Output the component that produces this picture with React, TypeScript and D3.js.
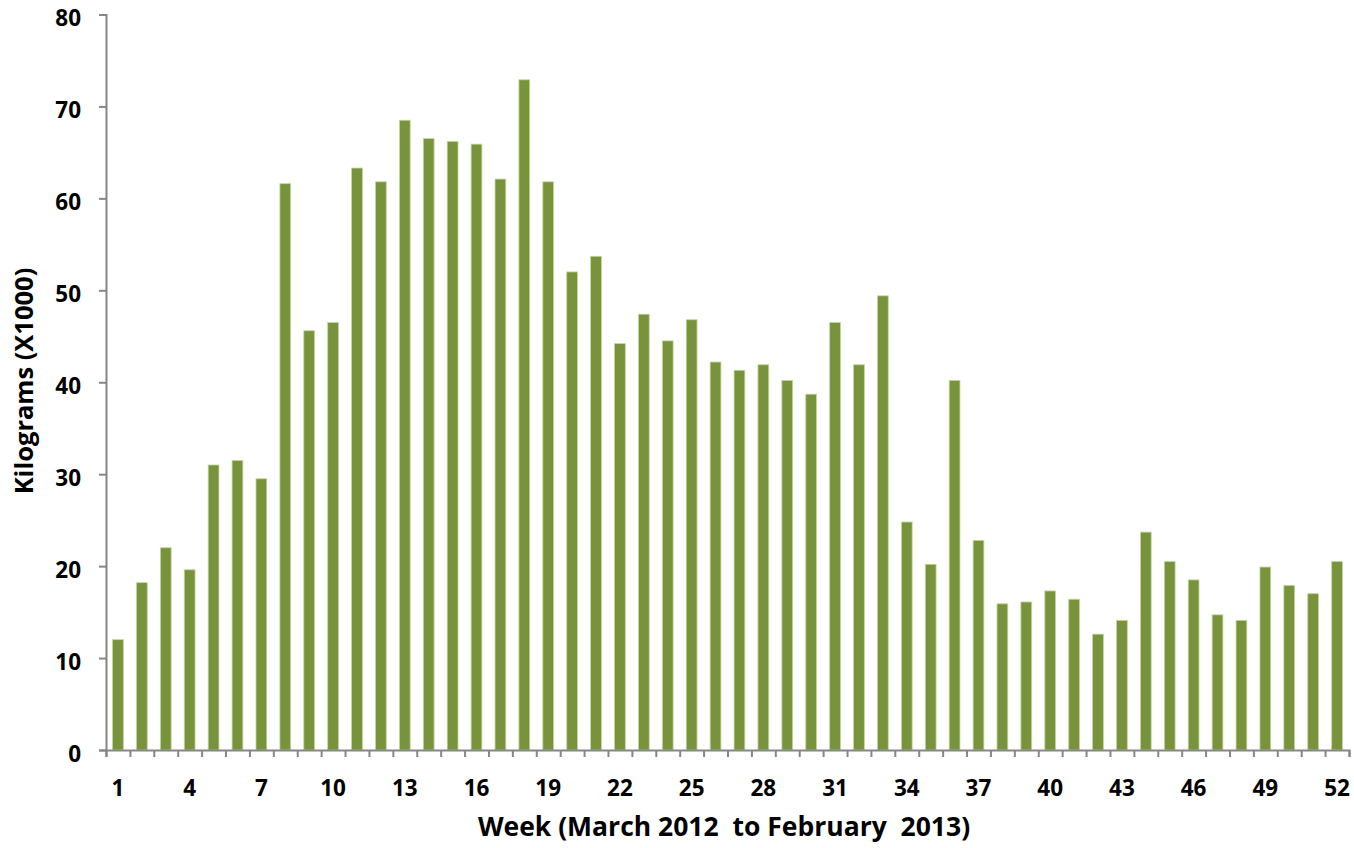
import React, { useEffect, useRef } from 'react';
import * as d3 from 'd3';

const weeks: number[] = d3.range(1, 53);
const kilograms: number[] = [
  12.0, 18.2, 22.0, 19.6, 31.0, 31.5, 29.5, 61.6, 45.6, 46.5,
  63.3, 61.8, 68.5, 66.5, 66.2, 65.9, 62.1, 72.9, 61.8, 52.0,
  53.7, 44.2, 47.4, 44.5, 46.8, 42.2, 41.3, 41.9, 40.2, 38.7,
  46.5, 41.9, 49.4, 24.8, 20.2, 40.2, 22.8, 15.9, 16.1, 17.3,
  16.4, 12.6, 14.1, 23.7, 20.5, 18.5, 14.7, 14.1, 19.9, 17.9,
  17.0, 20.5,
];
const yTicks: number[] = [0, 10, 20, 30, 40, 50, 60, 70, 80];
const xLabels: number[] = [1, 4, 7, 10, 13, 16, 19, 22, 25, 28, 31, 34, 37, 40, 43, 46, 49, 52];
const xTitle = 'Week (March 2012  to February  2013)';
const yTitle = 'Kilograms (X1000)';

const App: React.FC = () => {
  const svgRef = useRef<SVGSVGElement | null>(null);

  useEffect(() => {
    if (!svgRef.current) return;
    const svg = d3.select(svgRef.current);
    svg.selectAll('*').remove();

    const width = 1354;
    const height = 848;
    const left = 106;
    const right = 1349;
    const top = 14.5;
    const bottom = 750;
    const font = '"Open Sans", Lato, sans-serif';
    const axisColor = '#868686';

    svg.attr('width', width).attr('height', height);

    const x = d3
      .scaleBand<number>()
      .domain(weeks)
      .range([left, right])
      .paddingInner(0.55)
      .paddingOuter(0.275);
    const xEdge = d3.scaleLinear().domain([0, 52]).range([left, right]);
    const y = d3.scaleLinear().domain([0, 80]).range([bottom, top]);

    // bars
    svg
      .append('g')
      .selectAll('rect')
      .data(kilograms)
      .join('rect')
      .attr('x', (_, i) => x(weeks[i]) as number)
      .attr('y', (d) => y(d))
      .attr('width', x.bandwidth())
      .attr('height', (d) => bottom - y(d))
      .attr('fill', '#77933C')
      .attr('stroke', '#C3D69B')
      .attr('stroke-width', 0.8);

    // y axis
    const yAxis = svg
      .append('g')
      .attr('transform', `translate(${left},0)`)
      .call(d3.axisLeft(y).tickValues(yTicks).tickSize(7).tickSizeOuter(7).tickPadding(18));
    yAxis.select('.domain').attr('stroke', axisColor).attr('stroke-width', 2);
    yAxis.selectAll('.tick line').attr('stroke', axisColor).attr('stroke-width', 2);
    yAxis
      .selectAll('.tick text')
      .attr('fill', '#000')
      .attr('dy', '0.5em')
      .attr('font-family', font)
      .attr('font-weight', 'bold')
      .attr('font-size', 22.5);

    // x axis (tick marks between weeks)
    const xAxis = svg
      .append('g')
      .attr('transform', `translate(0,${bottom})`)
      .call(
        d3
          .axisBottom(xEdge)
          .tickValues(d3.range(0, 53))
          .tickSize(7)
          .tickSizeOuter(7)
          .tickFormat(() => '')
      );
    xAxis.select('.domain').attr('stroke', axisColor).attr('stroke-width', 2);
    xAxis.selectAll('.tick line').attr('stroke', axisColor).attr('stroke-width', 2);

    // x labels
    svg
      .append('g')
      .selectAll('text')
      .data(xLabels)
      .join('text')
      .attr('x', (d) => (x(d) as number) + x.bandwidth() / 2)
      .attr('y', 796)
      .attr('text-anchor', 'middle')
      .attr('font-family', font)
      .attr('font-weight', 'bold')
      .attr('font-size', 22.5)
      .text((d) => String(d));

    // titles
    svg
      .append('text')
      .attr('x', 724)
      .attr('y', 836)
      .attr('text-anchor', 'middle')
      .attr('font-family', font)
      .attr('font-weight', 'bold')
      .attr('font-size', 26.5)
      .style('white-space', 'pre')
      .text(xTitle);

    svg
      .append('text')
      .attr('transform', `translate(33,381) rotate(-90)`)
      .attr('text-anchor', 'middle')
      .attr('font-family', font)
      .attr('font-weight', 'bold')
      .attr('font-size', 25.5)
      .text(yTitle);
  }, []);

  return (
    <svg
      ref={svgRef}
      style={{ position: 'absolute', left: 0, top: 0, background: '#fff' }}
    />
  );
};

export default App;
